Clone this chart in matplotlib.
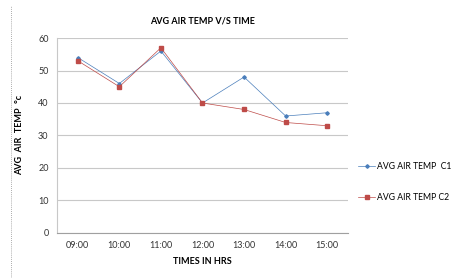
import matplotlib
matplotlib.use('Agg')
import matplotlib.pyplot as plt
from matplotlib.lines import Line2D
import numpy as np

# chart data
times = ['09:00', '10:00', '11:00', '12:00', '13:00', '14:00', '15:00']
temp_c1 = [54, 46, 56, 40, 48, 36, 37]
temp_c2 = [53, 45, 57, 40, 38, 34, 33]
y_ticks = [0, 10, 20, 30, 40, 50, 60]

plt.rcParams['font.family'] = ['Lato', 'DejaVu Sans']

fig = plt.figure(figsize=(4.57, 2.78), dpi=100)
ax = fig.add_axes([0.1247, 0.1619, 0.6368, 0.7014])

x = np.arange(len(times))
ax.plot(x, temp_c1, color='#4a7ebb', lw=0.5, marker='D', ms=1.8,
        label='AVG AIR TEMP  C1')
ax.plot(x, temp_c2, color='#be4b48', lw=0.5, marker='s', ms=2.3,
        label='AVG AIR TEMP C2')

ax.set_xlim(-0.5, len(times) - 0.5)
ax.set_ylim(0, 60)
ax.set_xticks(x)
ax.set_xticklabels(times, fontsize=6.5, color='#333333')
ax.set_yticks(y_ticks)
ax.set_yticklabels([str(v) for v in y_ticks], fontsize=6.5, color='#333333')
ax.tick_params(length=0, pad=6)

ax.grid(axis='y', color='#c8c8c8', lw=0.8)
ax.set_axisbelow(True)
for side in ['top', 'right']:
    ax.spines[side].set_visible(False)
ax.spines['left'].set_color('#c8c8c8')
ax.spines['bottom'].set_color('#a0a0a0')
ax.spines['left'].set_linewidth(0.8)
ax.spines['bottom'].set_linewidth(0.8)

ax.set_xlabel('TIMES IN HRS', fontsize=6.5, fontweight='bold', labelpad=5)
ax.set_ylabel('AVG  AIR  TEMP  \u00b0c', fontsize=6.5, fontweight='bold', labelpad=10)
fig.text(0.444, 0.925, 'AVG AIR TEMP V/S TIME', fontsize=6.5, fontweight='bold',
         ha='center', va='center')

ax.legend(loc='center left', bbox_to_anchor=(1.02, 0.26), frameon=False,
          fontsize=6.2, handlelength=2.0, labelspacing=2.6, handletextpad=0.15,
          borderpad=0.0)

# dotted frame edge on the left
fig.add_artist(Line2D([0.024, 0.024], [0.0, 0.98], color='#909090', lw=0.6,
                      ls=(0, (1, 1.5)), transform=fig.transFigure))

fig.savefig('out.png', dpi=100, facecolor='white')
